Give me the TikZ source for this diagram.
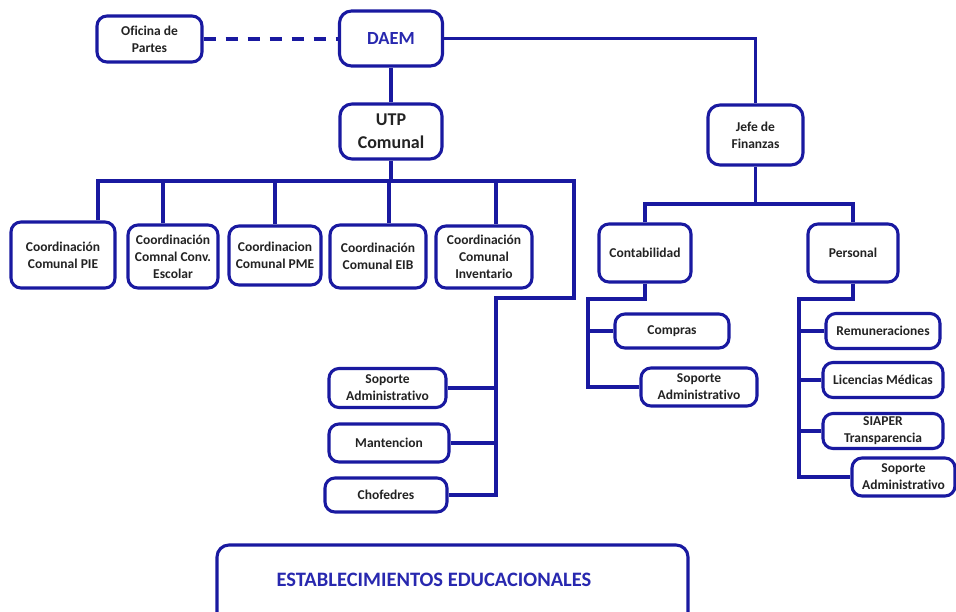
\documentclass[tikz,border=0pt]{standalone}
\usepackage{fontspec}
\setmainfont[Ligatures=NoCommon]{Carlito}
\definecolor{ln}{RGB}{25,25,160}
\definecolor{tx}{RGB}{35,35,35}
\definecolor{bt}{RGB}{40,40,175}
\begin{document}
\begin{tikzpicture}[x=1pt,y=-1pt,
  box/.style={draw=ln, line width=3.1pt, rounded corners=10pt, fill=white, inner sep=0pt,
    align=center, font=\fontsize{13.5}{17}\selectfont\bfseries, text=tx},
  sz/.style 2 args={minimum width=#1pt, minimum height=#2pt},
  conn/.style={draw=ln, line width=3.1pt},
]
\clip (0,0) rectangle (956,611);
\fill[white] (0,0) rectangle (956,611);

% top level
\node[box, sz={105}{46}] (ofi) at (149.5,39) {Oficina de\\Partes};
\node[box, sz={103}{55}, rounded corners=12pt, text=bt, font=\fontsize{18.5}{20}\selectfont\bfseries] (daem) at (391,38.5) {DAEM};
\node[box, sz={102}{55}, rounded corners=12pt, font=\fontsize{18}{23}\selectfont\bfseries] (utp) at (391,131.5) {UTP\\Comunal};
\node[box, sz={95}{60}, rounded corners=12pt] (jefe) at (755.5,135) {Jefe de\\Finanzas};

% coordinations
\node[box, sz={104}{66}] (pie) at (63,255) {Coordinación\\Comunal PIE};
\node[box, sz={90}{63}] (conv) at (173,256.5) {Coordinación\\Comnal Conv.\\Escolar};
\node[box, sz={92}{59}] (pme) at (275,255.5) {Coordinacion\\Comunal PME};
\node[box, sz={96}{63}] (eib) at (378,256.5) {Coordinación\\Comunal EIB};
\node[box, sz={96}{62}] (inv) at (484,257) {Coordinación\\Comunal\\Inventario};

% left support column
\node[box, sz={117}{39}] (sop1) at (387.5,388) {Soporte\\Administrativo};
\node[box, sz={120}{38}] (mant) at (389,443) {Mantencion};
\node[box, sz={122}{34}] (chof) at (386,495) {Chofedres};

% finance
\node[box, sz={92}{58}] (cont) at (645,253) {Contabilidad};
\node[box, sz={90}{58}] (pers) at (853,253) {Personal};
\node[box, sz={114}{34}] (comp) at (672,331) {Compras};
\node[box, sz={116}{38}] (sop2) at (699,387) {Soporte\\Administrativo};
\node[box, sz={114}{35}] (rem) at (883,331) {Remuneraciones};
\node[box, sz={120}{35}] (lic) at (883,380) {Licencias Médicas};
\node[box, sz={120}{35}] (siap) at (883,431) {SIAPER\\Transparencia};
\node[box, sz={103}{38}] (sop3) at (903.5,477) {Soporte\\Administrativo};

% establishments
\node[box, sz={471}{80}, rounded corners=12pt] (est) at (452.5,585) {};
\node[font=\fontsize{20.5}{24}\selectfont\bfseries, text=bt] (esttxt) at (434,580) {ESTABLECIMIENTOS EDUCACIONALES};

% coordinates
\coordinate (busL) at (98,181);
\coordinate (busR) at (574,181);
\coordinate (d2) at (163,181);
\coordinate (d3) at (275,181);
\coordinate (d4) at (389,181);
\coordinate (d5) at (496,181);
\coordinate (turn) at (496,298);
\coordinate (fL) at (645,204);
\coordinate (fR) at (853,204);
\coordinate (ct1) at (588,299);
\coordinate (pt1) at (799,299);

% connectors
\draw[conn, dash pattern=on 12pt off 10pt] (ofi.east) -- (ofi.east -| daem.west);
\draw[conn] (daem.east) -| (jefe.north);
\draw[conn] (daem.south) -- (utp.north);
\draw[conn] (utp.south) -- (utp.south |- busL);
\draw[conn] (busL |- pie.north) -- (busL) -- (busR) |- (turn) |- (chof.east);
\draw[conn] (d2) -- (d2 |- conv.north);
\draw[conn] (d3) -- (d3 |- pme.north);
\draw[conn] (d4) -- (d4 |- eib.north);
\draw[conn] (d5) -- (d5 |- inv.north);
\draw[conn] (sop1.east) -- (sop1.east -| turn);
\draw[conn] (mant.east) -- (mant.east -| turn);

\draw[conn] (jefe.south) -- (jefe.south |- fL);
\draw[conn] (fL |- cont.north) -- (fL) -- (fR) -- (fR |- pers.north);
\draw[conn] (cont.south) |- (ct1) |- (sop2.west);
\draw[conn] (comp.west) -- (comp.west -| ct1);
\draw[conn] (pers.south) |- (pt1) |- (sop3.west);
\draw[conn] (rem.west) -- (rem.west -| pt1);
\draw[conn] (lic.west) -- (lic.west -| pt1);
\draw[conn] (siap.west) -- (siap.west -| pt1);
\end{tikzpicture}
\end{document}
